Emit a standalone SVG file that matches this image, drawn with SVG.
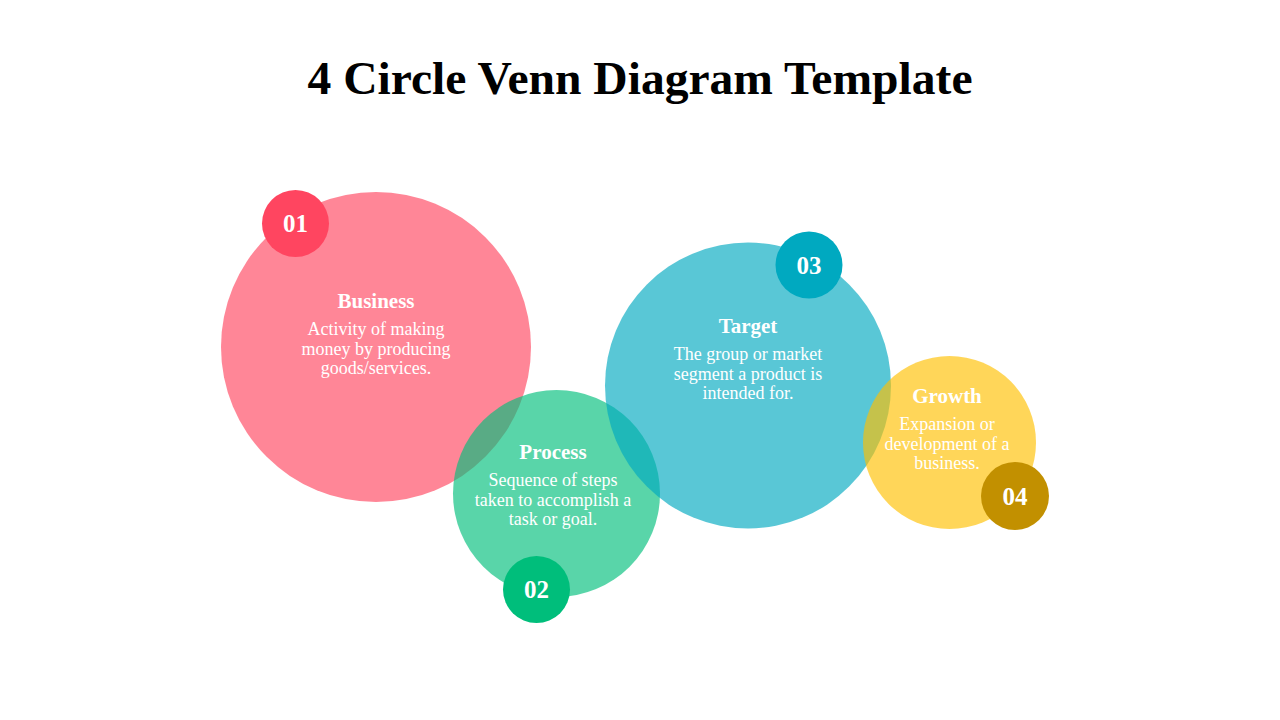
<svg xmlns="http://www.w3.org/2000/svg" width="1280" height="720" viewBox="0 0 1280 720">
<style>
.title{font-family:"Liberation Serif","DejaVu Serif",serif;font-weight:bold;font-size:46px;fill:#000;text-anchor:middle}
.big{opacity:0.65}
.h{font-family:"Liberation Serif","DejaVu Serif",serif;font-weight:bold;font-size:21px;fill:#fff;text-anchor:middle}
.b{font-family:"Liberation Serif","DejaVu Serif",serif;font-size:18px;fill:#fff;text-anchor:middle}
.n{font-family:"Liberation Serif","DejaVu Serif",serif;font-weight:bold;font-size:25px;fill:#fff;text-anchor:middle}
</style>
<rect width="1280" height="720" fill="#fff"/>
<text class="title" x="640" y="94" textLength="665" lengthAdjust="spacingAndGlyphs">4 Circle Venn Diagram Template</text>
<g id="business">
<circle class="big" cx="376" cy="347" r="155" fill="#FF4560"/>
</g>
<g id="process">
<circle class="big" cx="556.5" cy="493.5" r="103.5" fill="#00BE7B"/>
</g>
<g id="target">
<circle class="big" cx="748" cy="385.5" r="143" fill="#00A9C0"/>
</g>
<g id="growth">
<circle class="big" cx="949.5" cy="442.5" r="86.5" fill="#FFC000"/>
</g>
<g id="business-text">
<text class="h" x="376" y="308">Business</text>
<text class="b" x="376" y="335">Activity of making</text>
<text class="b" x="376" y="355">money by producing</text>
<text class="b" x="376" y="374">goods/services.</text>
</g>
<g id="process-text">
<text class="h" x="553" y="459">Process</text>
<text class="b" x="553" y="486">Sequence of steps</text>
<text class="b" x="553" y="506">taken to accomplish a</text>
<text class="b" x="553" y="525">task or goal.</text>
</g>
<g id="target-text">
<text class="h" x="748" y="333">Target</text>
<text class="b" x="748" y="360">The group or market</text>
<text class="b" x="748" y="380">segment a product is</text>
<text class="b" x="748" y="399">intended for.</text>
</g>
<g id="growth-text">
<text class="h" x="947" y="403">Growth</text>
<text class="b" x="947" y="430">Expansion or</text>
<text class="b" x="947" y="450">development of a</text>
<text class="b" x="947" y="469">business.</text>
</g>
<g id="badge-01">
<circle cx="295.5" cy="223.5" r="33.5" fill="#FF4560"/>
<text class="n" x="295.5" y="232">01</text>
</g>
<g id="badge-02">
<circle cx="536.5" cy="589.5" r="33.5" fill="#00BE7B"/>
<text class="n" x="536.5" y="598">02</text>
</g>
<g id="badge-03">
<circle cx="809" cy="265" r="33.5" fill="#00A9C0"/>
<text class="n" x="809" y="273.5">03</text>
</g>
<g id="badge-04">
<circle cx="1015" cy="496" r="34" fill="#C29000"/>
<text class="n" x="1015" y="504.5">04</text>
</g>
<g id="connectors"/>
</svg>
